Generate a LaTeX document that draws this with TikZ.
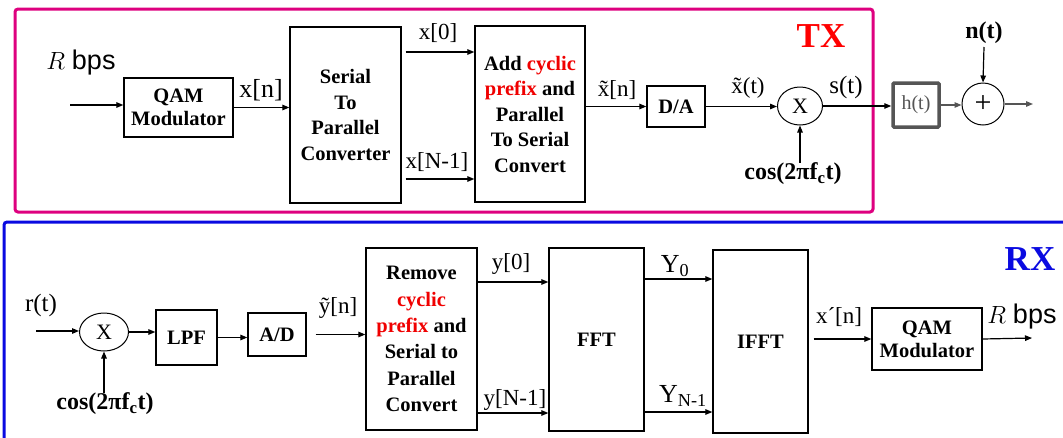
\documentclass[tikz,border=0pt]{standalone}
\usepackage{fontspec}
\setmainfont{Liberation Serif}
\newfontfamily\arialf{Liberation Sans}
\usetikzlibrary{arrows.meta,shapes.geometric}
\definecolor{txmag}{RGB}{222,0,127}
\definecolor{rxblue}{RGB}{10,10,225}
\definecolor{cpred}{RGB}{240,0,0}
\definecolor{hgray}{RGB}{85,85,85}
\newcommand\boxfont{\fontsize{20.5}{25.5}\selectfont\bfseries}
\newcommand\lblfont{\fontsize{23}{26}\selectfont}
\begin{document}
\begin{tikzpicture}[x=1pt,y=-1pt,
  bx/.style={draw,line width=1.3pt,inner sep=0pt,align=center,font=\boxfont},
  arr/.style={line width=1.2pt,-{Triangle[length=7pt,width=5.5pt]}},
  lbl/.style={inner sep=0pt,font=\lblfont},
  bld/.style={inner sep=0pt,font=\fontsize{24}{26}\selectfont\bfseries},
  mixer/.style={draw,ellipse,line width=1pt,inner sep=0pt,font=\fontsize{22}{24}\selectfont},
  frame/.style={line width=3pt,rounded corners=3pt}]
\useasboundingbox (0,0) rectangle (1063,437);
\fill[white] (0,0) rectangle (1063,437);
\clip (0,0) rectangle (1063,437);
% frames
\draw[frame,draw=txmag] (15,9) rectangle (873,212);
\draw[frame,draw=rxblue] (4,222) rectangle (1080,450);
% ---------------- TX ----------------
\node[bx,minimum width=109pt,minimum height=59pt,font=\fontsize{20.5}{23}\selectfont\bfseries] (qam1) at (178.5,107.5) {QAM\\Modulator};
\node[bx,minimum width=111pt,minimum height=176pt] (sp) at (345.5,115) {Serial\\To\\Parallel\\Converter};
\node[bx,minimum width=110pt,minimum height=176pt] (ps) at (530,114) {Add \textcolor{cpred}{cyclic}\\\textcolor{cpred}{prefix} and\\Parallel\\To Serial\\Convert};
\node[bx,minimum width=58pt,minimum height=41pt] (da) at (676,106.5) {D/A};
\node[mixer,minimum width=45pt,minimum height=38pt] (mix1) at (800,106) {X};
\node[draw=hgray,line width=3.5pt,rounded corners=1pt,inner sep=0pt,minimum width=46pt,minimum height=44pt,text=hgray,font=\fontsize{20}{22}\selectfont] (h) at (916,105) {h(t)};
\node[draw,circle,line width=1pt,inner sep=0pt,minimum size=42pt,font=\fontsize{30}{30}\selectfont] (add) at (983,104) {+};
\coordinate (in1) at (70,105);
\coordinate (out1) at (1033,104);
\node[inner sep=0pt,font=\fontsize{27}{28}\selectfont] (rb1) at (81,63) {$R$ {\arialf bps}};
\node[lbl,font=\fontsize{26}{28}\selectfont] (xn) at (261,90) {x[n]};
\node[lbl] (x0) at (438,33) {x[0]};
\node[lbl] (xN1) at (437,162) {x[N-1]};
\node[lbl] (xtn) at (617,90) {\~x[n]};
\node[lbl] (xtt) at (748,88) {\~x(t)};
\node[lbl,font=\fontsize{25}{28}\selectfont] (st) at (846,87) {s(t)};
\node[bld] (nt) at (984,33) {n(t)};
\node[bld] (cos1) at (793,174) {cos(2πf\textsubscript{c}t)};
\node[inner sep=0pt,text=red,font=\fontsize{35}{36}\selectfont\bfseries] (tx) at (821,36) {TX};
\draw[arr] (in1) -- (in1 -| qam1.west);
\draw[arr] (qam1.east) -- (qam1.east -| sp.west);
\draw[arr,shorten <=4pt] (sp.east |- 0,52) -- (ps.west |- 0,52);
\draw[arr,shorten <=4pt] (sp.east |- 0,179) -- (ps.west |- 0,179);
\draw[arr] (ps.east |- da.west) -- (da.west);
\draw[arr] (da.east) -- (da.east -| mix1.west);
\draw[arr] (mix1.east) -- (mix1.east -| h.west);
\draw[arr,draw=hgray] (h.east) -- (h.east -| add.west);
\draw[arr,draw=hgray] (add.east) -- (out1);
\draw[arr] (nt.south |- 0,47) -- (add.north);
\draw[arr] (cos1.north -| mix1.south) -- (mix1.south);
% ---------------- RX ----------------
\node[mixer,minimum width=49pt,minimum height=38pt] (mix2) at (104,332) {X};
\node[bx,minimum width=61pt,minimum height=55pt] (lpf) at (186.5,337.5) {LPF};
\node[bx,minimum width=58pt,minimum height=43pt] (ad) at (277,334.5) {A/D};
\node[bx,minimum width=111pt,minimum height=182pt,font=\fontsize{20.5}{26.3}\selectfont\bfseries] (rem) at (421.5,339) {Remove\\\textcolor{cpred}{cyclic}\\\textcolor{cpred}{prefix} and\\Serial to\\Parallel\\Convert};
\node[bx,minimum width=95pt,minimum height=183pt] (fft) at (596.5,339.5) {FFT};
\node[bx,minimum width=95pt,minimum height=183pt] (ifft) at (760.5,341.5) {IFFT};
\node[bx,minimum width=110pt,minimum height=62pt,font=\fontsize{20.5}{23}\selectfont\bfseries] (qam2) at (927,339) {QAM\\Modulator};
\coordinate (in2) at (36,331);
\coordinate (out2) at (1032,338);
\node[lbl,font=\fontsize{25}{28}\selectfont] (rt) at (41,305) {r(t)};
\node[lbl] (ytn) at (338,308) {\~y[n]};
\node[bld] (cos2) at (105,404) {cos(2πf\textsubscript{c}t)};
\node[lbl] (y0) at (511,264) {y[0]};
\node[lbl] (yN1) at (515,400) {y[N-1]};
\node[lbl,font=\fontsize{26}{28}\selectfont] (Y0) at (675,266) {Y\textsubscript{0}};
\node[lbl,font=\fontsize{26}{28}\selectfont] (YN1) at (683,396) {Y\textsubscript{N-1}};
\node[lbl] (xpn) at (839,317) {x´[n]};
\node[inner sep=0pt,font=\fontsize{27}{28}\selectfont] (rb2) at (1022,317) {$R$ {\arialf bps}};
\node[inner sep=0pt,text=rxblue,font=\fontsize{35}{36}\selectfont\bfseries] (rx) at (1030,259) {RX};
\draw[arr] (in2) -- (in2 -| mix2.west);
\draw[arr] (mix2.east) -- (mix2.east -| lpf.west);
\draw[arr] (lpf.east) -- (lpf.east -| ad.west);
\draw[arr,shorten <=9pt] (ad.east) -- (ad.east -| rem.west);
\draw[arr] (rem.east |- 0,282) -- (fft.west |- 0,282);
\draw[arr] (rem.east |- 0,413) -- (fft.west |- 0,413);
\draw[arr] (fft.east |- 0,279) -- (ifft.west |- 0,279);
\draw[arr] (fft.east |- 0,412) -- (ifft.west |- 0,412);
\draw[arr,shorten <=5pt] (ifft.east |- qam2.west) -- (qam2.west);
\draw[arr] (qam2.east) -- (out2);
\draw[arr] (cos2.north -| mix2.south) -- (mix2.south);
\end{tikzpicture}
\end{document}
